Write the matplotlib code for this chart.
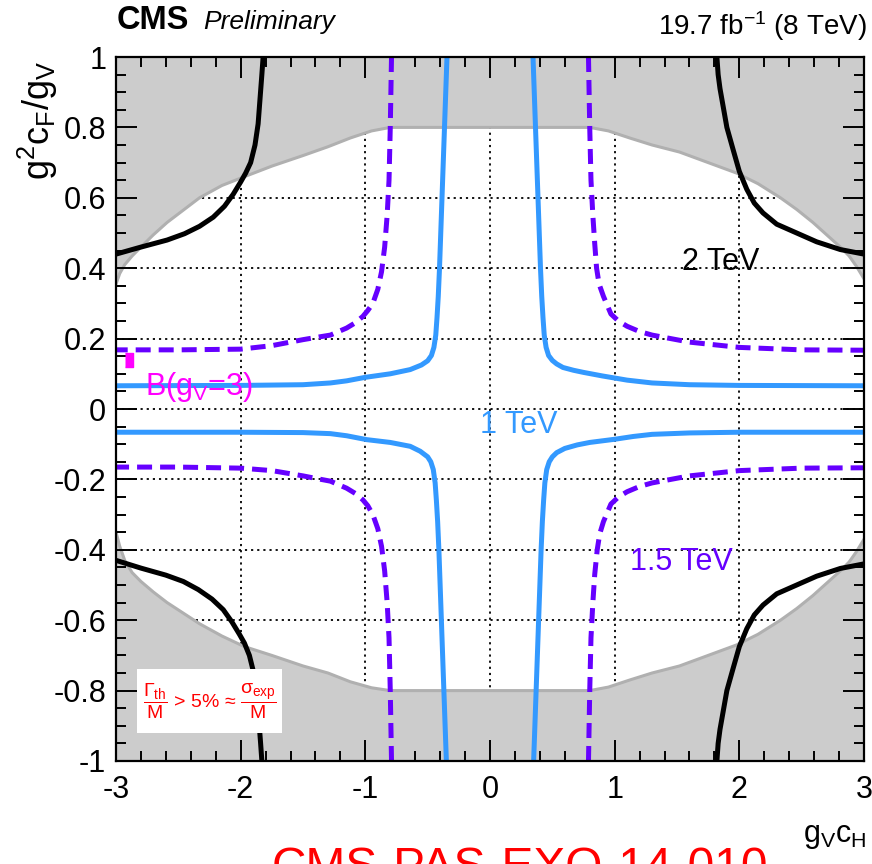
import matplotlib
matplotlib.use('Agg')
import matplotlib.pyplot as plt
from matplotlib import font_manager as fm
from matplotlib.ticker import FixedLocator, FixedFormatter, MultipleLocator
from matplotlib.patches import Rectangle

# ---------------- fonts ----------------
names = {f.name for f in fm.fontManager.ttflist}
REG = 'Liberation Sans' if 'Liberation Sans' in names else 'DejaVu Sans'

plt.rcParams['font.family'] = [REG, 'DejaVu Sans']
plt.rcParams['mathtext.fontset'] = 'custom'
plt.rcParams['mathtext.rm'] = REG
plt.rcParams['mathtext.it'] = REG
plt.rcParams['mathtext.bf'] = REG + ':bold'
plt.rcParams['mathtext.sf'] = REG
plt.rcParams['axes.unicode_minus'] = False

# ---------------- data ----------------
x_ticks = [-3, -2, -1, 0, 1, 2, 3]
x_tick_labels = ['-3', '-2', '-1', '0', '1', '2', '3']
y_ticks = [-1, -0.8, -0.6, -0.4, -0.2, 0, 0.2, 0.4, 0.6, 0.8, 1]
y_tick_labels = ['-1', '-0.8', '-0.6', '-0.4', '-0.2', '0', '0.2', '0.4', '0.6', '0.8', '1']
x_grid = [-2, -1, 0, 1, 2]
y_grid = [-0.8, -0.6, -0.4, -0.2, 0, 0.2, 0.4, 0.6, 0.8]

# boundary of the allowed (white) region  Gamma/M < 5%
bnd_up_x = [-3.0, -2.97, -2.93, -2.87, -2.8, -2.7, -2.59, -2.46, -2.33, -2.15, -1.97, -1.75, -1.5,
            -1.3, -1.12, -0.95, -0.8, 0.8, 0.95, 1.12, 1.3, 1.52, 1.75, 1.98, 2.15, 2.33, 2.46,
            2.59, 2.7, 2.81, 2.88, 2.94, 3.0]
bnd_up_y = [0.355, 0.385, 0.41, 0.435, 0.46, 0.495, 0.53, 0.565, 0.60, 0.635, 0.66, 0.69, 0.72,
            0.745, 0.77, 0.79, 0.80, 0.80, 0.79, 0.77, 0.75, 0.73, 0.70, 0.67, 0.64, 0.60, 0.567,
            0.53, 0.495, 0.46, 0.435, 0.405, 0.37]
bnd_lo_x = [-3.0, -2.97, -2.93, -2.87, -2.8, -2.7, -2.59, -2.46, -2.33, -2.15, -1.97, -1.75, -1.5,
            -1.3, -1.12, -0.95, -0.8, 0.8, 0.95, 1.12, 1.3, 1.52, 1.75, 1.98, 2.15, 2.33, 2.46,
            2.59, 2.7, 2.81, 2.88, 2.94, 3.0]
bnd_lo_y = [-0.35, -0.39, -0.43, -0.465, -0.49, -0.52, -0.55, -0.58, -0.61, -0.645, -0.675, -0.70,
            -0.73, -0.75, -0.775, -0.792, -0.80, -0.80, -0.79, -0.77, -0.75, -0.73, -0.70, -0.67,
            -0.64, -0.60, -0.567, -0.53, -0.495, -0.46, -0.435, -0.405, -0.37]

# 1 TeV (blue, solid)
b1_ul_x = [-0.345, -0.355, -0.365, -0.375, -0.385, -0.395, -0.405, -0.415, -0.425, -0.435, -0.45,
           -0.47, -0.50, -0.55, -0.64, -0.8, -1.0, -1.15, -1.28, -1.5, -2.0, -3.0]
b1_ul_y = [1.0, 0.9, 0.8, 0.7, 0.6, 0.5, 0.4, 0.32, 0.26, 0.21, 0.175,
           0.152, 0.137, 0.125, 0.112, 0.100, 0.09, 0.08, 0.074, 0.069, 0.067, 0.066]
b1_ur_x = [0.345, 0.355, 0.365, 0.375, 0.385, 0.395, 0.405, 0.415, 0.425, 0.435, 0.45, 0.47, 0.50,
           0.535, 0.585, 0.67, 0.75, 0.9, 1.1, 1.3, 1.6, 2.0, 3.0]
b1_ur_y = [1.0, 0.9, 0.8, 0.7, 0.6, 0.5, 0.4, 0.32, 0.26, 0.21, 0.175, 0.152, 0.138,
           0.128, 0.118, 0.11, 0.104, 0.094, 0.082, 0.074, 0.069, 0.067, 0.066]
b1_ll_x = [-0.35, -0.36, -0.37, -0.38, -0.39, -0.40, -0.41, -0.42, -0.43, -0.44, -0.455,
           -0.475, -0.50, -0.56, -0.64, -0.8, -0.99, -1.15, -1.28, -1.5, -2.0, -3.0]
b1_ll_y = [-1.0, -0.9, -0.8, -0.7, -0.6, -0.5, -0.4, -0.32, -0.26, -0.21, -0.172,
           -0.15, -0.136, -0.12, -0.106, -0.095, -0.087, -0.076, -0.07, -0.067, -0.066, -0.066]
b1_lr_x = [0.35, 0.36, 0.37, 0.38, 0.39, 0.40, 0.41, 0.42, 0.43, 0.44, 0.455, 0.475, 0.50,
           0.535, 0.6, 0.7, 0.8, 1.0, 1.15, 1.3, 1.6, 2.0, 3.0]
b1_lr_y = [-1.0, -0.9, -0.8, -0.7, -0.6, -0.5, -0.4, -0.32, -0.26, -0.21, -0.172, -0.15, -0.136,
           -0.124, -0.112, -0.102, -0.095, -0.086, -0.078, -0.072, -0.068, -0.066, -0.066]

# 1.5 TeV (violet, dashed)
b15_ul_x = [-0.79, -0.795, -0.80, -0.81, -0.825, -0.845, -0.87, -0.90, -0.94, -0.98, -1.02, -1.08,
            -1.15, -1.28, -1.4, -1.5, -1.75, -2.0, -2.5, -3.0]
b15_ul_y = [1.0, 0.9, 0.8, 0.65, 0.55, 0.46, 0.39, 0.34, 0.30, 0.28, 0.263, 0.245,
            0.23, 0.21, 0.203, 0.197, 0.18, 0.17, 0.168, 0.168]
b15_ur_x = [0.79, 0.795, 0.80, 0.81, 0.825, 0.84, 0.855, 0.875, 0.91, 0.97, 1.03, 1.1, 1.2, 1.3,
            1.45, 1.6, 2.0, 2.5, 3.0]
b15_ur_y = [1.0, 0.9, 0.8, 0.65, 0.55, 0.47, 0.40, 0.355, 0.32, 0.27, 0.25, 0.235, 0.22, 0.21,
            0.2, 0.19, 0.175, 0.168, 0.167]
b15_ll_x = [-0.79, -0.795, -0.80, -0.81, -0.825, -0.845, -0.87, -0.90, -0.94, -0.98, -1.02, -1.08,
            -1.15, -1.28, -1.4, -1.5, -1.75, -2.0, -2.5, -3.0]
b15_ll_y = [-1.0, -0.9, -0.8, -0.65, -0.55, -0.46, -0.39, -0.34, -0.30, -0.275, -0.258, -0.24,
            -0.225, -0.205, -0.197, -0.19, -0.175, -0.168, -0.165, -0.165]
b15_lr_x = [0.79, 0.795, 0.80, 0.81, 0.825, 0.84, 0.86, 0.88, 0.91, 0.97, 1.03, 1.1, 1.2, 1.3,
            1.45, 1.6, 2.0, 2.5, 3.0]
b15_lr_y = [-1.0, -0.9, -0.8, -0.65, -0.55, -0.47, -0.40, -0.355, -0.32, -0.27, -0.25, -0.235,
            -0.22, -0.21, -0.2, -0.19, -0.175, -0.168, -0.167]

# 2 TeV (black, solid)
b2_ul_x = [-1.82, -1.83, -1.845, -1.86, -1.885, -1.92, -1.96, -2.0, -2.06, -2.13, -2.22, -2.33,
           -2.45, -2.59, -2.8, -3.0]
b2_ul_y = [1.0, 0.95, 0.88, 0.81, 0.75, 0.70, 0.67, 0.645, 0.61, 0.576, 0.545, 0.519,
           0.498, 0.48, 0.46, 0.44]
b2_ur_x = [1.82, 1.83, 1.845, 1.87, 1.90, 1.95, 2.0, 2.06, 2.12, 2.19, 2.3, 2.46, 2.62, 2.81, 3.0]
b2_ur_y = [1.0, 0.95, 0.91, 0.86, 0.80, 0.737, 0.675, 0.624, 0.585, 0.557, 0.525, 0.50, 0.475,
           0.453, 0.44]
b2_ll_x = [-1.83, -1.84, -1.855, -1.87, -1.895, -1.93, -1.97, -2.01, -2.07, -2.14, -2.23, -2.34,
           -2.46, -2.6, -2.8, -3.0]
b2_ll_y = [-1.0, -0.95, -0.88, -0.81, -0.75, -0.70, -0.665, -0.64, -0.605, -0.57, -0.54, -0.513,
           -0.49, -0.472, -0.452, -0.43]
b2_lr_x = [1.82, 1.83, 1.845, 1.87, 1.90, 1.95, 2.0, 2.06, 2.12, 2.19, 2.3, 2.46, 2.62, 2.81, 3.0]
b2_lr_y = [-1.0, -0.95, -0.91, -0.86, -0.80, -0.737, -0.675, -0.624, -0.585, -0.557, -0.525, -0.50,
           -0.475, -0.453, -0.44]

# benchmark point B(gV=3)
bench_x = [-2.895]
bench_y = [0.14]

# ---------------- colours ----------------
C_BLUE = '#3399ff'
C_VIOL = '#6600ff'
C_GRAY = '#cccccc'
C_EDGE = '#b0b0b0'

# ---------------- figure ----------------
fig = plt.figure(figsize=(8.72, 8.64), dpi=100)
ax = fig.add_axes([116 / 872, 1 - 761 / 864, 748 / 872, 704 / 864])
ax.set_xlim(-3, 3)
ax.set_ylim(-1, 1)

for v in x_grid:
    ax.axvline(v, color='k', lw=1.3, ls=(0, (1.2, 2.2)), zorder=0.5)
for v in y_grid:
    ax.axhline(v, color='k', lw=1.3, ls=(0, (1.2, 2.2)), zorder=0.5)

ax.fill_between(bnd_up_x, bnd_up_y, 1, color=C_GRAY, lw=0, zorder=1)
ax.fill_between(bnd_lo_x, -1, bnd_lo_y, color=C_GRAY, lw=0, zorder=1)
ax.plot(bnd_up_x, bnd_up_y, color=C_EDGE, lw=2.2, zorder=1.1)
ax.plot(bnd_lo_x, bnd_lo_y, color=C_EDGE, lw=2.2, zorder=1.1)

LW = 3.6
for xs, ys in [(b1_ul_x, b1_ul_y), (b1_ur_x, b1_ur_y), (b1_ll_x, b1_ll_y), (b1_lr_x, b1_lr_y)]:
    ax.plot(xs, ys, color=C_BLUE, lw=LW, zorder=3, solid_joinstyle='round')
for xs, ys in [(b15_ul_x, b15_ul_y), (b15_ur_x, b15_ur_y), (b15_ll_x, b15_ll_y), (b15_lr_x, b15_lr_y)]:
    ax.plot(xs, ys, color=C_VIOL, lw=LW, ls=(0, (3.0, 1.6)), zorder=3)
for xs, ys in [(b2_ul_x, b2_ul_y), (b2_ur_x, b2_ur_y), (b2_ll_x, b2_ll_y), (b2_lr_x, b2_lr_y)]:
    ax.plot(xs, ys, color='k', lw=LW, zorder=3, solid_joinstyle='round')

ax.plot(bench_x, bench_y, ls='none', marker=[(-0.6, -1), (0.6, -1), (0.6, 1), (-0.6, 1)],
        ms=10, color='#ff00ff', zorder=4)

# ticks
ax.xaxis.set_major_locator(FixedLocator(x_ticks))
ax.xaxis.set_major_formatter(FixedFormatter(x_tick_labels))
ax.xaxis.set_minor_locator(MultipleLocator(0.2))
ax.yaxis.set_major_locator(FixedLocator(y_ticks))
ax.yaxis.set_major_formatter(FixedFormatter(y_tick_labels))
ax.yaxis.set_minor_locator(MultipleLocator(0.05))
ax.tick_params(which='both', direction='in', top=True, right=True, width=1.4, colors='k')
ax.tick_params(which='major', length=15)
ax.tick_params(which='minor', length=7.5)
ax.tick_params(axis='both', which='major', labelsize=22)
ax.tick_params(axis='y', pad=7)
ax.tick_params(axis='x', pad=10)
for sp in ax.spines.values():
    sp.set_linewidth(1.6)
    sp.set_zorder(5)

# in-plot labels
FS = 22
ax.text(1.54, 0.396, '2 TeV', color='k', fontsize=FS, va='baseline', ha='left', zorder=4)
ax.text(-0.08, -0.067, '1 TeV', color=C_BLUE, fontsize=FS, va='baseline', ha='left', zorder=4)
ax.text(1.12, -0.456, '1.5 TeV', color=C_VIOL, fontsize=FS, va='baseline', ha='left', zorder=4)
ax.text(-2.77, 0.041, r'B(g$_{V}$=3)', color='#ff00ff', fontsize=FS, va='baseline', ha='left', zorder=4)

ax.add_patch(Rectangle((-2.83, -0.92), 1.16, 0.18, facecolor='white', edgecolor='none', zorder=3.5))
ax.text(-2.25, -0.83, r'$\dfrac{\Gamma_{th}}{M}$ > 5% ≈ $\dfrac{\sigma_{exp}}{M}$', color='red',
        fontsize=14, ha='center', va='center', zorder=4)

# axis titles
fig.text(38 / 872, 1 - 60 / 864, r'g$^{2}$c$_{F}$/g$_{V}$', rotation=90, ha='center', va='top',
         fontsize=26)
fig.text(867 / 872, 1 - 842 / 864, r'g$_{V}$c$_{H}$', ha='right', va='baseline', fontsize=22)

# header
fig.text(117 / 872, 1 - 29 / 864, 'CMS', family=REG, weight='bold', fontsize=23.5, va='baseline')
fig.text(203 / 872, 1 - 29 / 864, 'Preliminary', family=REG, style='italic', fontsize=19, va='baseline')
fig.text(867 / 872, 1 - 35 / 864, r'19.7 fb$^{-1}$ (8 TeV)', family=REG, fontsize=20, ha='right',
         va='baseline')

# footer (cut off at the bottom, as in the original)
fig.text(272 / 872, 1 - 881 / 864, 'CMS-PAS-EXO-14-010', color='red', fontsize=34.5, va='baseline',
         ha='left')

fig.savefig('out.png', dpi=100)
